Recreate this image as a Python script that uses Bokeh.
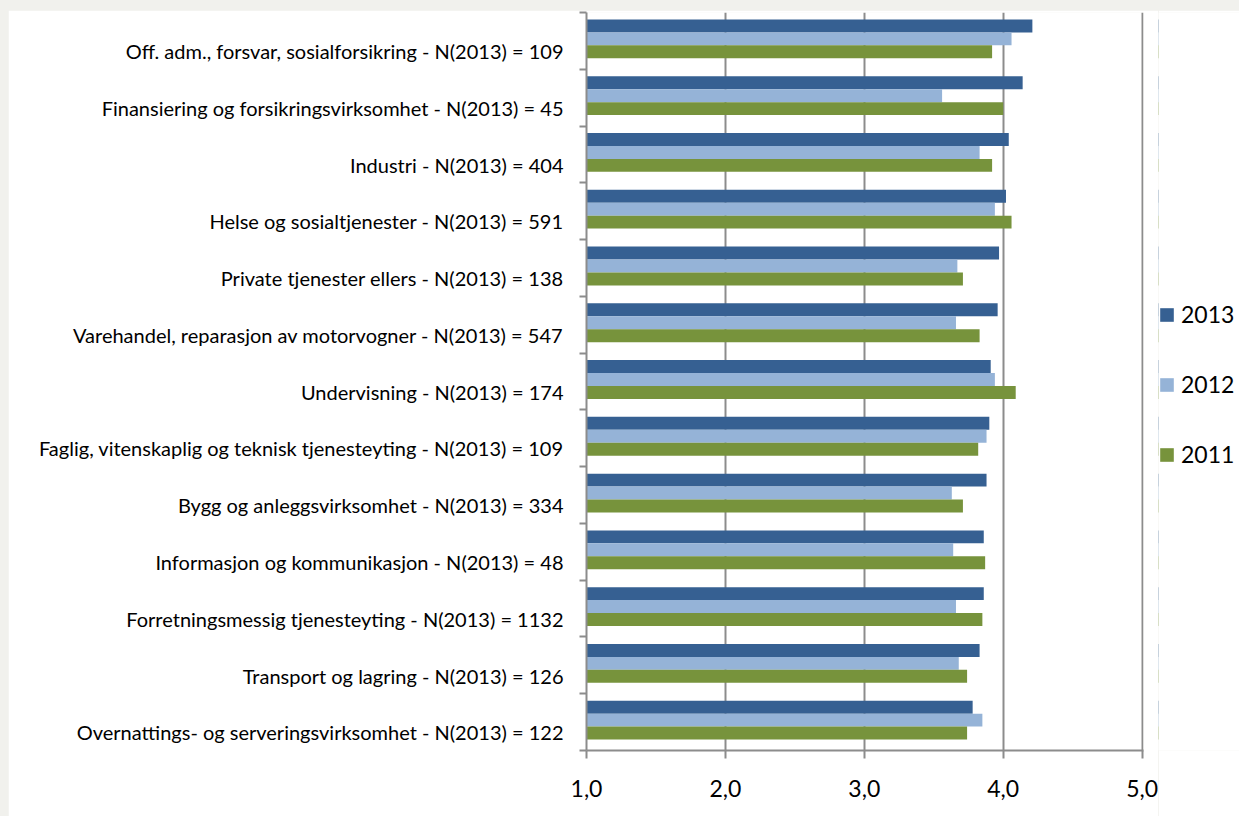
from bokeh.plotting import figure
from bokeh.layouts import row
from bokeh.models import Range1d, FixedTicker, Legend, LegendItem, ColumnDataSource
from bokeh.transform import dodge
from bokeh.embed import file_html
from bokeh.resources import INLINE

categories = [
    "Off. adm., forsvar, sosialforsikring - N(2013) = 109",
    "Finansiering og forsikringsvirksomhet - N(2013) = 45",
    "Industri - N(2013) = 404",
    "Helse og sosialtjenester - N(2013) = 591",
    "Private tjenester ellers - N(2013) = 138",
    "Varehandel, reparasjon av motorvogner - N(2013) = 547",
    "Undervisning - N(2013) = 174",
    "Faglig, vitenskaplig og teknisk tjenesteyting - N(2013) = 109",
    "Bygg og anleggsvirksomhet - N(2013) = 334",
    "Informasjon og kommunikasjon - N(2013) = 48",
    "Forretningsmessig tjenesteyting - N(2013) = 1132",
    "Transport og lagring - N(2013) = 126",
    "Overnattings- og serveringsvirksomhet - N(2013) = 122",
]
v2013 = [4.21, 4.14, 4.04, 4.02, 3.97, 3.96, 3.91, 3.90, 3.88, 3.86, 3.86, 3.83, 3.78]
v2012 = [4.06, 3.56, 3.83, 3.94, 3.67, 3.66, 3.94, 3.88, 3.63, 3.64, 3.66, 3.68, 3.85]
v2011 = [3.92, 4.00, 3.92, 4.06, 3.71, 3.83, 4.09, 3.82, 3.71, 3.87, 3.85, 3.74, 3.74]
series_names = ["2013", "2012", "2011"]
x_ticks = [1, 2, 3, 4, 5]
x_tick_labels = ["1,0", "2,0", "3,0", "4,0", "5,0"]

colors = ["#366092", "#95B3D7", "#77933C"]
GRID = "#8c8c8c"
FONT = "Lato"

n = len(categories)
ypos = [n - i - 0.5 for i in range(n)]
label_pos = [y - 0.18 for y in ypos]
bar_h = 0.228
offsets = [bar_h + 0.035, 0.035, -bar_h + 0.035]
cols = ["v13", "v12", "v11"]

src = ColumnDataSource(dict(y=ypos, v13=v2013, v12=v2012, v11=v2011))

p = figure(frame_width=557, frame_height=738,
           x_range=Range1d(x_ticks[0], x_ticks[-1] + 0.01), y_range=Range1d(0, n),
           output_backend="svg", toolbar_location=None,
           min_border_left=578, min_border_top=2, min_border_bottom=66, min_border_right=15,
           border_fill_color="white", background_fill_color="white",
           outline_line_color=None)

for col, off, c in zip(cols, offsets, colors):
    p.hbar(y=dodge("y", off, range=p.y_range), left=x_ticks[0], right=col,
           height=bar_h, source=src, fill_color=c, line_color=None)

# y axis
yax = p.yaxis[0]
yax.ticker = FixedTicker(ticks=label_pos, minor_ticks=list(range(n + 1)))
yax.major_label_overrides = {y: c for y, c in zip(label_pos, categories)}
yax.major_tick_line_color = None
yax.major_tick_out = 0
yax.major_tick_in = 0
yax.minor_tick_line_color = GRID
yax.minor_tick_line_width = 2
yax.minor_tick_out = 7
yax.minor_tick_in = 0
yax.axis_line_color = GRID
yax.axis_line_width = 2
yax.major_label_standoff = 16
yax.major_label_text_font = FONT
yax.major_label_text_font_size = "20px"
yax.major_label_text_color = "black"

# x axis
xax = p.xaxis[0]
xax.ticker = FixedTicker(ticks=x_ticks, minor_ticks=[])
xax.major_label_overrides = {t: l for t, l in zip(x_ticks, x_tick_labels)}
xax.major_tick_line_color = GRID
xax.major_tick_line_width = 2
xax.major_tick_out = 8
xax.major_tick_in = 0
xax.axis_line_color = GRID
xax.axis_line_width = 2
xax.major_label_standoff = 21
xax.major_label_text_font = FONT
xax.major_label_text_font_size = "23px"
xax.major_label_text_color = "black"

p.xgrid.ticker = FixedTicker(ticks=x_ticks)
p.xgrid.grid_line_color = GRID
p.xgrid.grid_line_width = 2
p.ygrid.grid_line_color = None

# legend panel (separate figure, its bars lie outside its visible range)
pl = figure(width=81, height=806, x_range=Range1d(100, 101), y_range=Range1d(0, n),
            output_backend="svg", toolbar_location=None,
            x_axis_location=None, y_axis_location=None,
            min_border=0, border_fill_color="white", background_fill_color="white",
            outline_line_color=None)
pl.xgrid.grid_line_color = None
pl.ygrid.grid_line_color = None
leg_renderers = []
for col, off, c in zip(cols, offsets, colors):
    r = pl.hbar(y=dodge("y", off, range=pl.y_range), left=x_ticks[0], right=col,
                height=bar_h, source=src, fill_color=c, line_color=None)
    leg_renderers.append(r)

legend = Legend(items=[LegendItem(label=s, renderers=[r]) for s, r in zip(series_names, leg_renderers)],
                location=(0, 282), orientation="vertical")
legend.label_text_font = FONT
legend.label_text_font_size = "23px"
legend.label_text_color = "black"
legend.glyph_width = 17
legend.glyph_height = 17
legend.label_standoff = 6
legend.spacing = 42
legend.padding = 0
legend.margin = 0
legend.border_line_color = None
legend.background_fill_alpha = 0
pl.add_layout(legend, "center")

layout = row(p, pl, spacing=0)

html = file_html(layout, INLINE)
head_end = html.find("</head>")
b = html.find("<body", head_end)
e = html.find(">", b)
html = html[:b] + '<body style="margin:0;padding:10px 0 0 8px;background:#f1f1ed;overflow:hidden;">' + html[e + 1:]
open("out.html", "w").write(html)
